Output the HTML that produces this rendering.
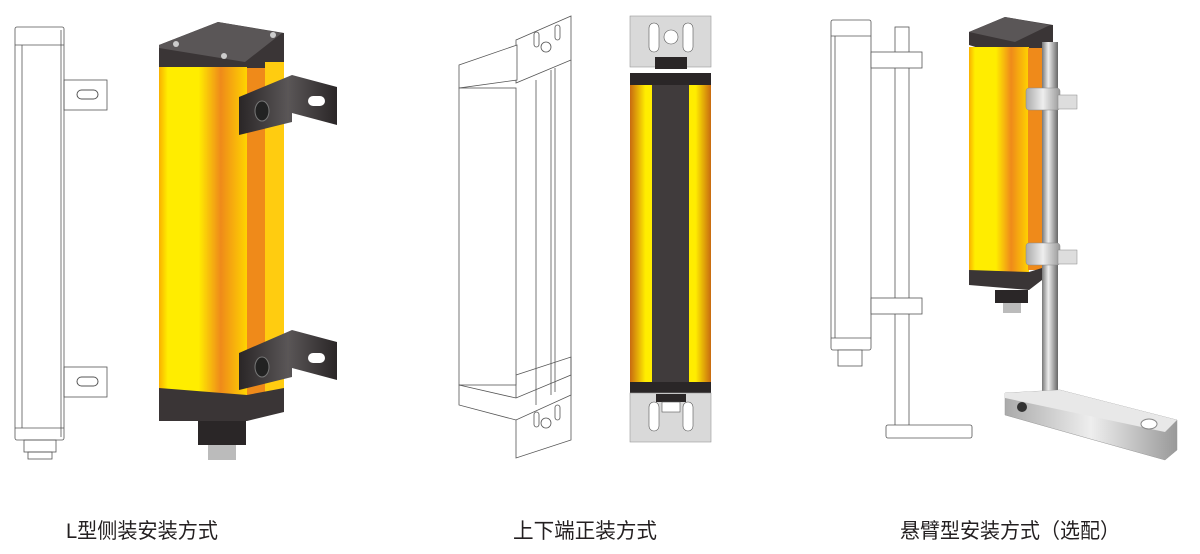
<!DOCTYPE html>
<html><head><meta charset="utf-8"><style>
html,body{margin:0;padding:0;background:#fff;width:1200px;height:554px;overflow:hidden}
svg{display:block}
text{font-family:"Liberation Sans","Noto Sans CJK SC",sans-serif;fill:#231f20;font-size:21px}
</style></head><body>
<svg width="1200" height="554" viewBox="0 0 1200 554" xmlns="http://www.w3.org/2000/svg">
<defs>
<linearGradient id="yel" x1="0" x2="1">
<stop offset="0" stop-color="#f9b000"/><stop offset="0.1" stop-color="#ffed00"/><stop offset="0.45" stop-color="#ffed00"/><stop offset="0.7" stop-color="#ef8a1a"/><stop offset="1" stop-color="#ffd400"/></linearGradient>
<linearGradient id="yel2" x1="0" x2="1">
<stop offset="0" stop-color="#c86a10"/><stop offset="0.7" stop-color="#ffed00"/><stop offset="1" stop-color="#ffed00"/></linearGradient>
<linearGradient id="yel3" x1="0" x2="1">
<stop offset="0" stop-color="#ffed00"/><stop offset="0.3" stop-color="#ffed00"/><stop offset="1" stop-color="#c86a10"/></linearGradient>
<linearGradient id="brk" x1="0" x2="1">
<stop offset="0" stop-color="#2a2627"/><stop offset="0.5" stop-color="#5a5657"/><stop offset="1" stop-color="#2a2627"/></linearGradient>
<linearGradient id="pole" x1="0" x2="1">
<stop offset="0" stop-color="#777"/><stop offset="0.4" stop-color="#eee"/><stop offset="1" stop-color="#666"/></linearGradient>
<linearGradient id="met" x1="0" x2="1">
<stop offset="0" stop-color="#aaa"/><stop offset="0.5" stop-color="#eee"/><stop offset="1" stop-color="#999"/></linearGradient>
</defs>
<g fill="none" stroke="#555" stroke-width="0.8">
<rect x="15" y="27" width="49" height="413" rx="2" fill="#fff"/>
<line x1="15" y1="45" x2="64" y2="45"/><line x1="22" y1="45" x2="22" y2="428"/><line x1="61" y1="30" x2="61" y2="437"/>
<line x1="15" y1="428" x2="64" y2="428"/>
<rect x="24" y="440" width="32" height="12"/><rect x="28" y="452" width="24" height="7"/>
<rect x="64" y="80" width="43" height="30"/><rect x="77" y="90" width="21" height="9" rx="4.5" stroke-width="1"/>
<rect x="64" y="367" width="43" height="30"/><rect x="77" y="377" width="21" height="9" rx="4.5" stroke-width="1"/>
</g>
<polygon points="159,45 218,22 284,33 284,65 247,84 159,67" fill="#3a3536"/>
<polygon points="159,45 218,22 282,33 245,62 159,48" fill="#5a5657"/>
<rect x="159" y="67" width="88" height="333" fill="url(#yel)"/>
<rect x="247" y="68" width="18" height="332" fill="#ef8a1a"/>
<rect x="265" y="62" width="19" height="338" fill="#ffcc10"/>
<polygon points="159,388 247,395 284,388 284,412 247,421 159,421" fill="#3a3536"/>
<rect x="198" y="421" width="48" height="24" fill="#2a2627"/>
<rect x="208" y="445" width="28" height="15" fill="#bbb"/>
<circle cx="176" cy="44" r="3" fill="#ccc"/><circle cx="224" cy="56" r="3" fill="#ccc"/><circle cx="273" cy="35" r="3" fill="#ccc"/>
<polygon points="239,97 292,75 337,87 337,125 292,113 292,122 239,135" fill="url(#brk)"/>
<ellipse cx="262" cy="111" rx="7" ry="10" fill="#222" stroke="#777"/><rect x="308" y="96" width="17" height="10" rx="5" fill="#fff"/>
<polygon points="239,353 292,330 337,342 337,380 292,368 292,377 239,390" fill="url(#brk)"/>
<ellipse cx="262" cy="367" rx="7" ry="10" fill="#222" stroke="#777"/><rect x="308" y="353" width="17" height="10" rx="5" fill="#fff"/>
<g fill="#fff" stroke="#555" stroke-width="0.8">
<polygon points="516,40 571,16 571,60 516,83"/>
<polygon points="516,375 571,357 571,440 516,458"/>
<polygon points="459,65 517,45 517,80 459,88"/>
<rect x="459" y="88" width="57" height="297"/>
<polygon points="459,385 516,398 571,375 571,395 516,420 459,405"/>
<line x1="536" y1="80" x2="536" y2="405"/><line x1="551" y1="70" x2="551" y2="395"/><line x1="555" y1="68" x2="555" y2="392"/><line x1="571" y1="60" x2="571" y2="375"/>
<rect x="534" y="32" width="5" height="15" rx="2.5"/><rect x="555" y="25" width="5" height="15" rx="2.5"/><circle cx="546" cy="47" r="5"/>
<rect x="534" y="412" width="5" height="15" rx="2.5"/><rect x="555" y="405" width="5" height="15" rx="2.5"/><circle cx="546" cy="423" r="5"/>
</g>
<rect x="630" y="16" width="81" height="51" fill="#d9d9d9" stroke="#999" stroke-width="0.6"/>
<rect x="649" y="23" width="10" height="29" rx="5" fill="#fff" stroke="#555" stroke-width="0.6"/><rect x="683" y="23" width="10" height="29" rx="5" fill="#fff" stroke="#555" stroke-width="0.6"/><circle cx="671" cy="37" r="7" fill="#fff" stroke="#555" stroke-width="0.6"/>
<rect x="655" y="57" width="32" height="12" fill="#2a2627"/>
<rect x="630" y="73" width="81" height="12" fill="#2a2627"/>
<rect x="630" y="85" width="22" height="297" fill="url(#yel2)"/>
<rect x="652" y="85" width="37" height="297" fill="#403b3c"/>
<rect x="689" y="85" width="22" height="297" fill="url(#yel3)"/>
<rect x="630" y="382" width="81" height="12" fill="#2a2627"/>
<rect x="630" y="393" width="81" height="49" fill="#d9d9d9" stroke="#999" stroke-width="0.6"/>
<rect x="649" y="402" width="10" height="29" rx="5" fill="#fff" stroke="#555" stroke-width="0.6"/><rect x="683" y="402" width="10" height="29" rx="5" fill="#fff" stroke="#555" stroke-width="0.6"/>
<rect x="656" y="394" width="30" height="8" fill="#2a2627"/><rect x="662" y="402" width="18" height="10" fill="#fff" stroke="#555" stroke-width="0.6"/>
<g fill="#fff" stroke="#555" stroke-width="0.8">
<rect x="895" y="27" width="14" height="400"/>
<rect x="831" y="20" width="40" height="330" rx="2"/>
<line x1="831" y1="36" x2="871" y2="36"/><line x1="835" y1="36" x2="835" y2="338"/><line x1="831" y1="338" x2="871" y2="338"/>
<rect x="838" y="350" width="24" height="16"/>
<rect x="871" y="52" width="51" height="16"/><rect x="871" y="298" width="51" height="16"/>
<rect x="886" y="425" width="86" height="13" rx="2"/>
</g>
<polygon points="969,32 1005,17 1053,25 1053,50 1017,60 969,45" fill="#3a3536"/>
<polygon points="969,32 1005,17 1050,25 1015,42" fill="#5a5657"/>
<rect x="969" y="47" width="60" height="225" fill="url(#yel)"/>
<rect x="1028" y="48" width="14" height="222" fill="#ef8a1a"/>
<polygon points="969,270 1029,272 1042,268 1042,280 1029,290 969,285" fill="#3a3536"/>
<rect x="995" y="290" width="33" height="13" fill="#2a2627"/><rect x="1003" y="303" width="18" height="10" fill="#bbb"/>
<rect x="1042" y="42" width="16" height="358" fill="url(#pole)"/>
<rect x="1026" y="88" width="34" height="22" rx="3" fill="url(#met)" stroke="#888" stroke-width="0.5"/><rect x="1058" y="95" width="19" height="14" fill="#ddd" stroke="#888" stroke-width="0.5"/>
<rect x="1026" y="243" width="34" height="22" rx="3" fill="url(#met)" stroke="#888" stroke-width="0.5"/><rect x="1058" y="250" width="19" height="14" fill="#ddd" stroke="#888" stroke-width="0.5"/>
<polygon points="1005,393 1060,390 1177,420 1177,450 1165,460 1005,415" fill="url(#met)" stroke="#999" stroke-width="0.5"/>
<polygon points="1005,393 1060,390 1177,420 1165,432 1005,398" fill="#e8e8e8"/>
<ellipse cx="1022" cy="407" rx="5" ry="5" fill="#333"/><ellipse cx="1149" cy="424" rx="8" ry="5" fill="#fff" stroke="#888"/>
<text x="66" y="538" textLength="152" lengthAdjust="spacingAndGlyphs">L型侧装安装方式</text>
<text x="513" y="538" textLength="144" lengthAdjust="spacingAndGlyphs">上下端正装方式</text>
<text x="900" y="538" textLength="220" lengthAdjust="spacingAndGlyphs">悬臂型安装方式（选配）</text>
</svg>
</body></html>
